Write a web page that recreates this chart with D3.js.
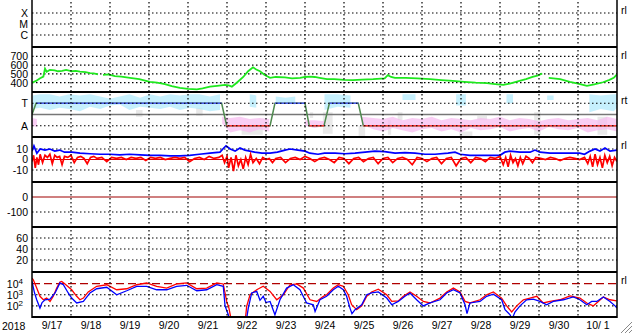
<!DOCTYPE html>
<html>
<head>
<meta charset="utf-8">
<script src="https://cdn.jsdelivr.net/npm/d3@7"></script>
<style>
  body { margin: 0; background: #fff; }
  svg text { font-family: "Liberation Sans", Arial, sans-serif; font-size: 10.5px; fill: #000; }
  .dot { stroke: #000; stroke-width: 1.2; stroke-dasharray: 1.5 2.5; }
</style>
</head>
<body>
<svg id="chart" width="633" height="334"></svg>
<script>
// hours are counted from 2018-09-17 00:00
const dayLabels = ["9/17", "9/18", "9/19", "9/20", "9/21", "9/22", "9/23", "9/24",
  "9/25", "9/26", "9/27", "9/28", "9/29", "9/30", "10/ 1"];
const xrayClasses = ["X", "M", "C"];
const speedTicks = [400, 500, 600, 700];
const sectorNames = ["A", "", "T"];
const bzTicks = [10, 0, -10];
const dstTicks = [0, -100];
const kpTicks = [60, 40, 20];
const fluxTicks = [1e4, 1e3, 1e2];
const sideLabels = ["rl", "rl", "rt", "rl", "", "", "rl"];

const windSpeed = [[0,400],[2.5,420],[5,450],[7,470],[8,560],[9,525],[11,545],[14,540],[16,530],[18.5,535],
  [21,545],[24.6,530],[27,535],[29.5,525],[33,520],[35.7,510],[38,505],[40.6,495],[42,null],[43.7,490],
  [47,495],[51,475],[55,470],[60.3,455],[66,440],[72.6,410],[77,400],[81.8,385],[86,360],[91,340],
  [96,330],[101.5,325],[105,335],[109.5,355],[114,365],[118.8,375],[121,370],[123,355],[126,400],[130,465],
  [133,530],[136,575],[138,550],[140.3,530],[143,490],[146.5,455],[150,465],[155.7,460],[160,450],[165,455],
  [168,465],[171,470],[174,465],[177,455],[181.5,440],[186,440],[192,432],[197.5,430],[203,435],[210,440],
  [217,450],[219,485],[221,465],[223.4,455],[230,455],[237,450],[245,440],[252,430],[259,420],[266,410],
  [273,400],[280,395],[285,385],[290,375],[294,390],[300,420],[304,440],[308,465],[311,480],[314,505],
  [316,null],[318,455],[325,440],[331,410],[336,390],[341.5,365],[346,380],[351.4,405],[355,430],[358,455],[360,495]];

const sectorHours = [0, 2.5, 116.7, 119.8, 146.5, 149.5, 168, 170.6, 179.7, 183, 200.8, 203.9, 360];
const sectorLevels = [1, 2, 2, 0, 0, 2, 2, 0, 0, 2, 2, 0, 0];

const skyCloud = [[0.5,1.5,2.7],[5,1.6,2.8],[11,1.4,2.8],[17,1.6,2.6],[23,1.5,2.8],[29.5,1.3,2.7],[35.7,1.7,2.8],
  [42,1.5,2.6],[48,1.8,2.4],[54,1.9,2.6],[60,1.4,2.8],[66.5,1.7,2.5],[72.6,1.6,2.8],[79,1.5,2.6],[85,1.7,2.8],
  [91,1.4,2.7],[97,1.6,2.8],[103,1.5,2.8],[109.5,1.3,2.6],[115.7,1.4,2.8],[117.5,null,null],
  [134,1.7,2.8],[138,1.6,2.7],[141,null,null],[150,2.0,2.6],[156,2.1,2.5],[162,1.9,2.6],[166,null,null],
  [180,1.4,2.8],[188,1.7,2.8],[196,1.6,2.7],[202,null,null],[228,2.3,2.8],[236,2.3,2.8],[237,null,null],
  [261,1.8,2.8],[267,1.8,2.8],[268,null,null],[292,2.0,2.8],[296,2.0,2.8],[297,null,null],
  [317,2.3,2.7],[321,2.3,2.7],[322,null,null],[343,1.2,2.8],[350,1.5,2.7],[358,1.3,2.8],[360,1.6,2.8]];
const pinkCloud = [[0,0.0,0.7],[3,-0.1,0.6],[4,null,null],
  [117,0.2,0.8],[122,-0.6,0.7],[128,-0.4,0.8],[134,-0.6,0.6],[140,-0.3,0.7],[146,-0.5,0.6],[147,null,null],
  [168,0.0,0.5],[174,-0.2,0.5],[180,0.0,0.4],[181,null,null],
  [203,0.1,0.8],[210,-0.3,0.7],[216,-0.5,0.6],[222,-0.2,0.8],[228,-0.4,0.5],[234,-0.6,0.7],[240,-0.3,0.6],
  [246,-0.2,0.8],[252,-0.5,0.5],[258,-0.3,0.7],[264,-0.6,0.6],[270,-0.2,0.5],[276,-0.4,0.7],[282,-0.3,0.6],
  [288,-0.1,0.8],[294,-0.5,0.5],[300,-0.3,0.7],[306,-0.2,0.6],[312,-0.5,0.4],[318,-0.1,0.6],[324,-0.3,0.7],
  [330,-0.4,0.5],[336,-0.2,0.6],[342,-0.6,0.7],[348,-0.4,0.5],[354,-0.3,0.8],[360,-0.5,0.6]];
const grayCloud = [[64,0.8,1.4],[68,0.8,1.4],[69,null,null],[101,0.9,1.6],[105,0.9,1.6],[106,null,null],
  [129,-0.8,0.0],[142,-0.8,0.0],[143,null,null],[171,0.7,1.2],[173,0.7,1.2],[174,null,null],
  [179,-0.7,1.2],[185,-0.7,1.2],[186,null,null],[201,-0.9,0.0],[205,-0.9,0.0],[206,null,null],
  [219,-0.8,0.5],[221,-0.8,0.5],[222,null,null],[225,0.5,1.2],[228,0.5,1.2],[229,null,null],
  [263,-1.0,-0.5],[271,-1.0,-0.5],[272,null,null],[274,0.5,0.9],[280,0.5,0.9],[281,null,null],
  [309,-0.8,1.2],[313,-0.8,1.2],[314,null,null],[348,-0.8,0.8],[354,-0.8,0.8]];

const bzBlue = [[0,8],[1.2,13],[3,6],[5,10],[8,9],[11,10],[14,8],[17,9],[20,7],[24.6,7],[29.5,6],[35.7,5.5],
  [42,5],[48,5],[54,4.5],[60,5],[66.5,4.5],[72.6,4],[79,4],[85,3.5],[91,3.5],[97,4],[103,5],[109.5,6],
  [115.7,7],[118,11],[119.4,13],[122,10],[125,8],[128,11],[131,9],[134,8],[137,7],[141.5,6],[146.5,6],
  [151,7],[155.7,9],[158.8,10],[163.7,9],[168,8],[171,6],[176,5],[180,6],[186.5,6],[192.6,5.5],[198.8,6],
  [205,7],[211,8],[217,7.5],[223.4,6],[229.5,6.5],[235.7,6],[241.8,5],[248,5],[256,6],[260.3,7],[263.4,5],
  [269.5,4],[275.7,4],[281.8,4],[288,4],[291,7],[294,8],[300.3,7],[306.5,7],[309.5,9],[312.6,7],[318.8,6],
  [325,6],[331,6],[337,6],[340,5],[343.4,8],[346.5,10],[349.5,8],[352.6,11],[355.7,8],[360,9]];
const bzRed = [[0,-2],[1,4],[2,-8],[3,2],[4,-5],[5,5],[6.5,-3],[8,4],[9.5,2],[11,5],[12.5,-4],[14,4],[15.5,2],
  [17,3],[18.5,-5],[20,3],[22,2],[24,4],[26,-3],[28,2],[30,3],[32,1],[34,-4],[36,2],[38,3],[40,1],[43,2],
  [46,-2],[49,2],[52,1],[55,2],[58,0],[61,2],[64,1],[67,2],[70,-1],[73,2],[76,1],[79,2],[82,0],[85,1],[88,2],
  [91,1],[94,2],[97,-2],[100,1],[103,2],[106,0],[109,3],[112,1],[115,2],[117,4],[118.5,-3],[120,3],[121,-8],
  [122.5,2],[124,-11],[125.5,4],[127,-6],[128.5,0],[130,-9],[131.5,2],[133,-5],[134.5,5],[136,-3],[138,1],
  [140,-4],[142,2],[144,0],[146,1],[148,-3],[150,1],[153,2],[156,-3],[159,1],[162,2],[165,0],[168,3],[171,1],
  [174,-2],[177,1],[180,2],[183,0],[186,-3],[189,2],[192,1],[195,-4],[198,1],[201,2],[204,-2],[207,1],[210,2],
  [213,-4],[216,1],[219,2],[222,-3],[225,1],[228,2],[231,0],[234,-5],[237,2],[240,1],[243,-2],[246,1],[249,2],
  [252,-4],[255,1],[258,2],[261,-6],[264,1],[267,2],[270,-3],[273,2],[276,1],[279,-2],[282,2],[285,1],[288,3],
  [290,-5],[291.5,2],[293,-7],[294.5,4],[296,-3],[297.5,1],[299,-6],[300.5,2],[302,-4],[304,3],[306,1],[308,-3],
  [310,2],[313,1],[316,0],[319,2],[322,1],[325,-1],[328,1],[331,2],[334,1],[337,0],[340,2],[342,-4],[343.5,3],
  [345,-7],[346.5,5],[348,-5],[349.5,2],[351,-8],[352.5,4],[354,-3],[355.5,3],[357,-6],[358.5,2],[360,-2]];

// electron flux, log10 of the value
const fluxRedLog = [[0,4.5],[0.8,4.35],[2.9,3.6],[4.9,2.86],[7,2.55],[9,2.7],[11.1,2.4],[13.1,2.86],[15.2,3.6],
  [17.2,4.15],[18.3,4.2],[20.3,3.97],[24.4,3.45],[27.5,2.86],[29.5,2.55],[31.6,2.7],[34.6,3.25],[39.8,3.76],
  [46,3.9],[52.1,3.45],[58.3,3.54],[64.4,3.9],[70.6,4.06],[76.7,3.76],[82.9,3.6],[89,3.97],[95.2,4.06],
  [101.4,3.54],[107.5,3.6],[113.7,4.06],[117.7,3.97],[119.8,2.4],[121.2,1.8],[122.9,0.5],[131.1,0.5],
  [132.1,1.96],[134.2,3.0],[138.3,3.45],[142.3,3.76],[146.5,3.3],[150.6,2.55],[154.7,3.0],[158.8,3.9],
  [162.9,3.97],[167,3.6],[171.1,2.55],[175.2,2.4],[179.3,2.86],[181.3,3.0],[185.4,3.6],[188.5,3.9],[191.6,3.76],
  [194.6,3.0],[196.7,2.1],[199.8,1.66],[202.9,2.0],[206,2.86],[209,3.25],[213.1,3.5],[218.3,3.0],[221.4,2.4],
  [225.4,2.45],[228.5,2.86],[232.6,3.25],[236.7,2.86],[240.8,2.4],[244.9,2.26],[251.1,2.7],[255.2,3.25],
  [259.3,3.6],[263.4,3.25],[266.5,2.4],[269.5,2.26],[275.7,2.55],[279.8,3.0],[283.9,3.25],[289,2.7],[292.1,2.0],
  [295.2,1.45],[298.3,2.0],[302.4,2.55],[306.5,2.7],[310.6,2.86],[314.6,2.26],[318.8,2.4],[324.9,2.55],
  [331.1,2.9],[337.2,2.7],[341.4,2.26],[345.4,2.0],[348.5,2.4],[351.6,2.8],[355.7,2.55],[359.8,2.45]];
const fluxBlueLog = [[0,4.2],[1.5,3.2],[2.9,2.55],[4.9,1.8],[6.2,2.3],[8,2.55],[11.1,2.6],[14.2,3.16],[17.2,4.06],
  [19.3,3.9],[22.3,3.16],[24.4,2.7],[27.5,2.26],[31.6,2.4],[35.7,3.16],[39.8,3.54],[46,3.67],[52.1,3.0],
  [58.3,3.36],[64.4,3.76],[70.6,3.76],[76.7,3.45],[82.9,3.45],[89,3.76],[95.2,3.85],[101.4,3.36],[107.5,3.45],
  [113.7,3.9],[117.7,3.76],[118.8,2.0],[120.8,1.2],[121.8,0.5],[131.7,0.5],[133.1,1.8],[135.2,3.16],[138.3,3.3],
  [140.3,2.5],[142.3,2.86],[144,2.3],[146.5,2.4],[149.5,1.2],[152.6,2.55],[156.7,3.6],[160.8,3.9],[164.9,3.45],
  [169,2.26],[173.1,2.1],[174.2,1.5],[177.2,2.55],[181.3,2.86],[185.4,3.45],[188.5,3.76],[191.6,3.45],
  [193.6,2.86],[195.7,1.8],[196.9,1.3],[198.8,1.66],[202.9,2.1],[206,3.0],[209,3.16],[213.1,3.25],[218.3,2.7],
  [221.4,2.1],[225.4,2.4],[229.5,2.86],[232.6,3.16],[236.7,2.55],[240.8,2.0],[244.9,2.26],[251.1,2.55],
  [255.2,3.16],[259.3,3.45],[263.4,3.16],[266.5,2.1],[267.7,1.3],[269.5,2.26],[275.7,2.4],[279.8,2.86],
  [283.9,3.05],[289,2.55],[291.1,1.66],[294.2,1.2],[295.4,0.8],[297.2,1.45],[300.3,2.0],[304.4,2.55],[308.5,2.6],
  [312.6,2.4],[316.7,2.1],[320.8,2.4],[327,2.55],[333.1,2.8],[337.2,2.55],[341.4,2.1],[344.4,2.4],[347.5,2.4],
  [351.6,2.8],[355.7,2.4],[358.8,2.0],[360,1.8]];

// ---- layout ----
const L = 32, R = 617, panelH = 45;
const tops = d3.range(7).map(i => 2 + i * panelH);
const start = new Date(2018, 8, 17), end = new Date(2018, 9, 2);
const at = h => new Date(+start + h * 3600e3);

const svg = d3.select("#chart");
const x = d3.scaleTime().domain([start, end]).range([L, R]);

const defs = svg.append("defs");
tops.forEach((t, i) => {
  defs.append("clipPath").attr("id", "clip" + i)
    .append("rect").attr("x", L).attr("y", t).attr("width", R - L).attr("height", panelH);
});

const yXray = d3.scalePoint().domain(xrayClasses).range([tops[0] + 11, tops[0] + 33]);
const ySpeed = d3.scaleLinear().domain([300, 800]).range([tops[1] + panelH - 0.5, tops[1] + 0.5]);
const ySector = d3.scaleLinear().domain([-1, 3]).range([tops[2] + panelH, tops[2]]);
const yBz = d3.scaleLinear().domain([-21, 21]).range([tops[3] + panelH - 0.5, tops[3] + 0.5]);
const yDst = d3.scaleLinear().domain([-200, 100]).range([tops[4] + panelH, tops[4]]);
const yKp = d3.scaleLinear().domain([0, 80]).range([tops[5] + panelH - 1, tops[5]]);
const yFlux = d3.scaleLog().domain([10, 1e5]).range([tops[6] + panelH, tops[6] + 0.5]);

// dotted horizontal grid
const hgrid = (y, vals) => svg.append("g").selectAll("line").data(vals).join("line")
  .attr("class", "dot").attr("x1", L).attr("x2", R)
  .attr("y1", d => y(d)).attr("y2", d => y(d));
hgrid(yXray, xrayClasses);
hgrid(ySpeed, speedTicks);
hgrid(yBz, [10, -10]);
hgrid(yDst, [-100]);
hgrid(yKp, kpTicks);
hgrid(yFlux, [1e3, 1e2]);

// left axes
const leftAxis = (y, vals, fmt) => {
  const g = svg.append("g").attr("transform", `translate(${L},0)`)
    .call(d3.axisLeft(y).tickValues(vals).tickSize(0).tickPadding(4).tickFormat(fmt));
  g.select(".domain").remove();
  g.selectAll("text").style("font-size", "10.5px").attr("fill", "#000").attr("font-family", null);
  return g;
};
leftAxis(yXray, xrayClasses, d => d);
leftAxis(ySpeed, speedTicks, d => d);
leftAxis(ySector, [2, 0], d => sectorNames[d]);
leftAxis(yBz, bzTicks, d => d);
leftAxis(yDst, dstTicks, d => d);
leftAxis(yKp, kpTicks, d => d);
const fluxAxis = leftAxis(yFlux, fluxTicks, d => "");
fluxAxis.selectAll("text").each(function (d) {
  const t = d3.select(this).attr("dx", "-5px");
  t.append("tspan").text("10");
  t.append("tspan").attr("dy", "-4").style("font-size", "8px").text(Math.round(Math.log10(d)));
});

// panel 2: solar wind speed
svg.append("path").datum(windSpeed)
  .attr("clip-path", "url(#clip1)")
  .attr("fill", "none").attr("stroke", "#1ee81e").attr("stroke-width", 1.8)
  .attr("d", d3.line().defined(d => d[1] != null).x(d => x(at(d[0]))).y(d => ySpeed(d[1])));

// panel 3: sector clouds and state
const cloud = d3.area().defined(d => d[1] != null)
  .x(d => x(at(d[0]))).y0(d => ySector(d[1])).y1(d => ySector(d[2]));
const g3 = svg.append("g").attr("clip-path", "url(#clip2)");
g3.append("path").datum(grayCloud).attr("d", cloud).attr("fill", "#dadada").attr("opacity", 0.6);
g3.append("path").datum(pinkCloud).attr("d", cloud).attr("fill", "#f7b9f0").attr("opacity", 0.7);
g3.append("path").datum(skyCloud).attr("d", cloud).attr("fill", "#aee9fc").attr("opacity", 0.7);
hgrid(ySector, [2, 0]);
g3.append("line").attr("x1", L).attr("x2", R)
  .attr("y1", ySector(1)).attr("y2", ySector(1)).attr("stroke", "#777").attr("stroke-width", 1.5);
const sector = sectorHours.map((h, i) => [h, sectorLevels[i]]);
g3.append("path").datum(sector).attr("fill", "none").attr("stroke", "#4f8a4f").attr("stroke-width", 1.5)
  .attr("d", d3.line().x(d => x(at(d[0]))).y(d => ySector(d[1])));
g3.selectAll("line.seg").data(d3.pairs(sector).filter(([a, b]) => a[1] === b[1] && a[1] !== 1))
  .join("line").attr("class", "seg")
  .attr("x1", d => x(at(d[0][0]))).attr("x2", d => x(at(d[1][0])))
  .attr("y1", d => ySector(d[0][1])).attr("y2", d => ySector(d[1][1]))
  .attr("stroke", d => d[0][1] === 2 ? "#4a5ff0" : "#ff3838").attr("stroke-width", 1.5);

// panel 4: field components
svg.append("line").attr("x1", L).attr("x2", R).attr("y1", yBz(0)).attr("y2", yBz(0))
  .attr("stroke", "#e00000").attr("stroke-width", 1.2);
const lineBz = d3.line().x(d => x(at(d[0]))).y(d => yBz(d[1]));
svg.append("path").datum(bzBlue).attr("clip-path", "url(#clip3)")
  .attr("fill", "none").attr("stroke", "#0000ff").attr("stroke-width", 1.7).attr("d", lineBz);
svg.append("path").datum(bzRed).attr("clip-path", "url(#clip3)")
  .attr("fill", "none").attr("stroke", "#ff0000").attr("stroke-width", 1.7).attr("d", lineBz);

// panel 5: zero line
svg.append("line").attr("x1", L).attr("x2", R).attr("y1", yDst(0)).attr("y2", yDst(0))
  .attr("stroke", "#a00000").attr("stroke-width", 1.2);

// panel 7: electron flux
svg.append("line").attr("x1", L).attr("x2", R).attr("y1", yFlux(1e4)).attr("y2", yFlux(1e4))
  .attr("stroke", "#b00000").attr("stroke-width", 1.3).attr("stroke-dasharray", "8 4");
const lineFlux = d3.line().x(d => x(at(d[0]))).y(d => yFlux(10 ** d[1]));
svg.append("path").datum(fluxRedLog).attr("clip-path", "url(#clip6)")
  .attr("fill", "none").attr("stroke", "#ff0000").attr("stroke-width", 1.3).attr("d", lineFlux);
svg.append("path").datum(fluxBlueLog).attr("clip-path", "url(#clip6)")
  .attr("fill", "none").attr("stroke", "#0000ff").attr("stroke-width", 1.3).attr("d", lineFlux);

// vertical day grid
const midnights = d3.timeDay.range(d3.timeDay.offset(start, 1), end);
svg.append("g").selectAll("line").data(midnights).join("line")
  .attr("class", "dot").attr("x1", d => x(d)).attr("x2", d => x(d))
  .attr("y1", tops[0]).attr("y2", tops[6] + panelH);

// frame
svg.append("g").selectAll("line").data(tops.slice(1).concat(tops[6] + panelH)).join("line")
  .attr("x1", L).attr("x2", R).attr("y1", d => d).attr("y2", d => d)
  .attr("stroke", "#000").attr("stroke-width", 2);
svg.append("g").selectAll("line").data([L, R]).join("line")
  .attr("x1", d => d).attr("x2", d => d).attr("y1", 0).attr("y2", tops[6] + panelH + 1)
  .attr("stroke", "#000").attr("stroke-width", 1.5);

// right side labels
svg.append("g").selectAll("text").data(sideLabels.map((s, i) => [s, tops[i]]).filter(d => d[0]))
  .join("text").attr("x", R + 4).attr("y", d => d[1] + 12).attr("fill", "#000").text(d => d[0]);

// bottom axis
const noons = d3.timeDay.range(start, end).map(d => d3.timeHour.offset(d, 12));
const bx = svg.append("g").attr("transform", `translate(0,${tops[6] + panelH})`)
  .call(d3.axisBottom(x).tickValues(noons).tickSize(0).tickPadding(5)
    .tickFormat((d, i) => dayLabels[i]));
bx.select(".domain").remove();
bx.selectAll("text").style("font-size", "10.5px").attr("fill", "#000").attr("font-family", null);
svg.append("text").attr("x", 2).attr("y", 330).attr("fill", "#000").text("2018");

// window grip
svg.append("g").selectAll("line").data([4, 8, 12]).join("line")
  .attr("x1", d => 633 - d).attr("y1", 333).attr("x2", 632).attr("y2", d => 334 - d)
  .attr("stroke", "#888").attr("stroke-width", 1);
</script>
</body>
</html>
